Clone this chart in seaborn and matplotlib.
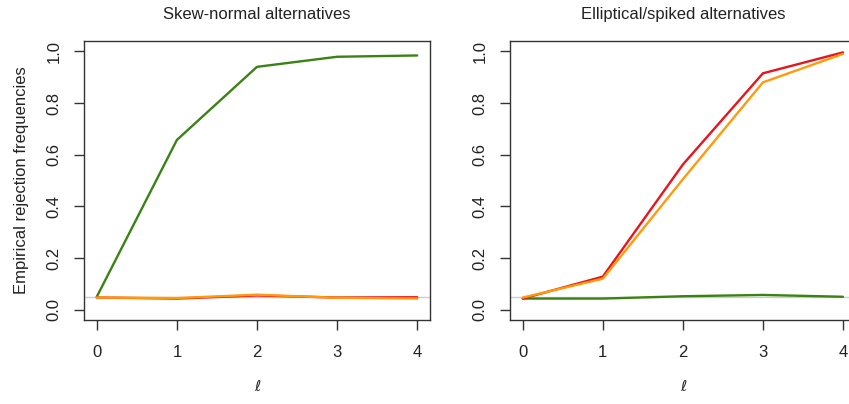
import numpy as np
import pandas as pd
import matplotlib
matplotlib.use("Agg")
import matplotlib.pyplot as plt
import seaborn as sns

ell = [0, 1, 2, 3, 4]

# skew-normal alternatives
skew_green = [0.050, 0.657, 0.940, 0.979, 0.984]
skew_red = [0.047, 0.043, 0.055, 0.047, 0.048]
skew_orange = [0.047, 0.045, 0.058, 0.046, 0.043]

# elliptical / spiked alternatives
ell_green = [0.043, 0.043, 0.052, 0.057, 0.050]
ell_red = [0.043, 0.128, 0.562, 0.915, 0.996]
ell_orange = [0.047, 0.120, 0.505, 0.880, 0.990]

titles = ["Skew-normal alternatives", "Elliptical/spiked alternatives"]
nominal = 0.05

GREEN = "#3a8214"
RED = "#e8141c"
ORANGE = "#ff9a0a"

sns.set_style("white")
plt.rcParams['font.family'] = ['Liberation Sans', 'DejaVu Sans']

fig = plt.figure(figsize=(8.49, 4.04), dpi=100)
ax1 = fig.add_axes([0.0989, 0.2079, 0.4076, 0.6906])
ax2 = fig.add_axes([0.6007, 0.2079, 0.4073, 0.6906])

panels = [
    (ax1, skew_green, skew_red, skew_orange),
    (ax2, ell_green, ell_red, ell_orange),
]

for i, (ax, g, r, o) in enumerate(panels):
    ax.axhline(nominal, color="#cccccc", lw=1, zorder=1)
    df = pd.DataFrame({"ell": ell * 3,
                       "rate": g + r + o,
                       "test": ["g"] * 5 + ["r"] * 5 + ["o"] * 5})
    sns.lineplot(data=df, x="ell", y="rate", hue="test",
                 palette={"g": GREEN, "r": RED, "o": ORANGE},
                 lw=1.7, ax=ax, legend=False, zorder=2)
    ax.set_xlim(-0.16, 4.16)
    ax.set_ylim(-0.04, 1.04)
    ax.set_xticks(ell)
    ax.set_yticks([0.0, 0.2, 0.4, 0.6, 0.8, 1.0])
    ax.set_yticklabels(["0.0", "0.2", "0.4", "0.6", "0.8", "1.0"],
                       rotation=90, va="center")
    ax.tick_params(axis="both", direction="out", length=7, width=1,
                   color="#333333", labelcolor="#222222", labelsize=12,
                   bottom=True, left=True)
    ax.tick_params(axis="x", pad=11)
    ax.tick_params(axis="y", pad=9)
    for s in ax.spines.values():
        s.set_visible(True)
        s.set_color("#333333")
        s.set_linewidth(1)
    ax.set_title(titles[i], fontsize=12, pad=16, color="#222222")
    ax.set_xlabel("ℓ", fontsize=11, labelpad=14, family=['DejaVu Sans'])
    ax.set_ylabel("")

ax1.set_ylabel("Empirical rejection frequencies", fontsize=12, labelpad=13,
               color="#222222")

fig.savefig("out.png", dpi=100)
